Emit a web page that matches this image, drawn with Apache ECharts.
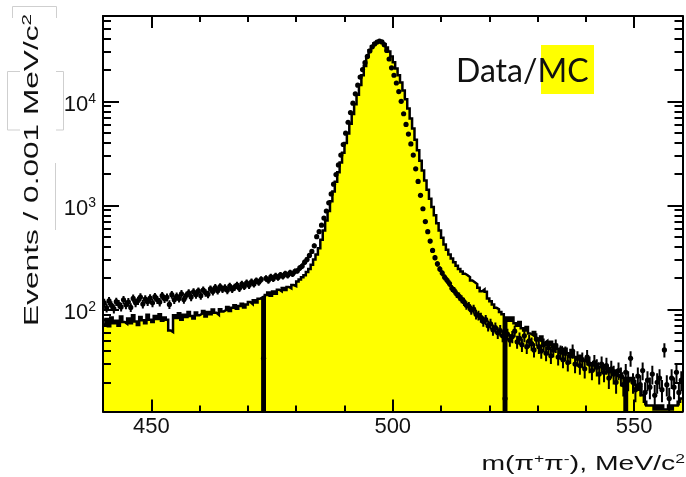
<!DOCTYPE html>
<html>
<head>
<meta charset="utf-8">
<script src="https://cdn.jsdelivr.net/npm/echarts@6/dist/echarts.min.js"></script>
<style>
  html, body { margin: 0; padding: 0; background: #ffffff; }
  #chart { width: 686px; height: 477px; }
</style>
</head>
<body>
<div id="chart"></div>
<script>
// pi+ pi- invariant mass, 0.5 MeV bins from 440 to 560 MeV/c^2
const MASS_MIN = 440;
const MASS_MAX = 560;
const BIN_WIDTH = 0.5;

// Simulated spectrum (filled histogram), bin contents by low edge
const mcCounts440 = [
  72, 81, 69, 84, 74, 78, 70, 86, 76, 73,
  82, 74, 88, 77, 71, 85, 79, 74, 89, 80,
  76, 87, 81, 90, 78, 84, 80, 63, 61, 88,
  83, 92, 80, 89, 85, 95, 87, 82, 94, 88,
  91, 97, 86, 95, 90, 100, 93, 89, 101, 96,
  99, 106, 97, 104, 110, 102, 108, 114, 105, 112,
  118, 113, 123, 117, 127, 131, 0, 138, 146, 136,
  149, 142, 155, 150, 161, 154, 165, 160, 172, 168
];
const mcCounts480 = [
  186, 195, 204, 214, 229, 245, 269, 302, 339, 389,
  468, 575, 716, 887, 1099, 1361, 1687, 2089, 2588, 3206,
  3972, 4920, 6095, 7551, 9354, 11588, 14355, 17783, 21878, 26915,
  30903, 33884, 35975, 37325, 37670, 36983, 35318, 32961, 30061, 26915,
  23714, 20654, 17783, 15136, 12735, 10471, 8511, 6839, 5495, 4266,
  3388, 2692, 2163, 1738, 1413, 1161, 966, 804, 676, 575,
  490, 422, 376, 339, 309, 285, 263, 245, 232, 221,
  214, 205, 190, 183, 176, 162, 150, 156, 148, 128
];
const mcCounts520 = [
  120, 112, 104, 101, 95, 90, 0, 84, 78, 84,
  74, 70, 76, 66, 63, 68, 59, 57, 61, 53,
  51, 55, 48, 50, 46, 49, 44, 46, 42, 43,
  40, 42, 38, 37, 39, 35, 34, 36, 33, 32,
  34, 30, 31, 29, 30, 28, 29, 27, 28, 25,
  27, 24, 26, 23, 24, 22, 0, 22, 21, 22,
  19, 17, 18, 15, 13, 12, 12, 12, 11, 12,
  11, 12, 11, 11, 12, 11, 12, 12, 13, 14
];

// Measured events per bin
const dataCounts440 = [
  116, 104, 121, 110, 102, 119, 113, 106, 124, 111,
  118, 105, 128, 116, 122, 132, 113, 126, 119, 129,
  116, 133, 124, 118, 136, 127, 131, 112, 139, 124,
  134, 128, 142, 125, 137, 145, 132, 148, 139, 151,
  136, 154, 145, 140, 158, 149, 163, 152, 166, 157,
  162, 153, 168, 157, 164, 172, 160, 176, 167, 181,
  171, 185, 176, 190, 183, 195, 34, 199, 191, 206,
  198, 211, 203, 215, 209, 221, 214, 226, 220, 233
];
const dataCounts480 = [
  236, 251, 262, 285, 303, 331, 362, 410, 501, 560,
  646, 757, 885, 1060, 1290, 1600, 1980, 2450, 3050, 3850,
  4950, 6300, 7800, 9600, 11800, 14300, 17100, 20200, 23500, 27000,
  30500, 33400, 35600, 37100, 37900, 37200, 35000, 30800, 25500, 21000,
  17800, 15000, 12400, 10000, 7600, 6000, 4850, 3900, 3050, 2250,
  1700, 1250, 930, 700, 560, 455, 370, 315, 275, 245,
  224, 204, 191, 178, 160, 152, 141, 134, 126, 119,
  110, 108, 99, 101, 90, 88, 84, 77, 80, 70
];
const dataCounts520 = [
  73, 64, 67, 60, 63, 56, 14, 58, 51, 55,
  62, 49, 53, 46, 56, 44, 50, 47, 41, 52,
  44, 40, 46, 38, 43, 36, 41, 45, 35, 39,
  33, 38, 31, 36, 40, 30, 34, 29, 33, 27,
  35, 30, 26, 31, 28, 24, 30, 25, 29, 22,
  27, 24, 20, 26, 23, 19, 25, 21, 34, 20,
  17, 23, 19, 26, 16, 21, 18, 24, 15, 20,
  22, 17, 41, 19, 14, 22, 18, 25, 16, 21
];

// Axis ticks
const xMajorTicks = [450, 500, 550];
const xMinorTicks = [460, 470, 480, 490, 510, 520, 530, 540];
const yMajorTicks = [100, 1000, 10000];
const yMinorTicks = [
  20, 30, 40, 50, 60, 70, 80, 90,
  200, 300, 400, 500, 600, 700, 800, 900,
  2000, 3000, 4000, 5000, 6000, 7000, 8000, 9000,
  20000, 30000, 40000, 50000, 60000
];
const Y_MIN = 10.5;
const Y_MAX = 66000;

const mcCounts = mcCounts440.concat(mcCounts480, mcCounts520);
const dataCounts = dataCounts440.concat(dataCounts480, dataCounts520);

// empty bins cannot sit on a log scale: send them below the visible floor
const EMPTY_LEVEL = 1;

const mcSteps = mcCounts.map((c, i) => [MASS_MIN + i * BIN_WIDTH, c > 0 ? c : EMPTY_LEVEL]);
mcSteps.push([MASS_MAX, mcSteps[mcSteps.length - 1][1]]);

const dataPoints = dataCounts.map((c, i) => [MASS_MIN + (i + 0.5) * BIN_WIDTH, c]);

const FONT = '"Liberation Sans", Arial, Helvetica, sans-serif';
const INK = '#000000';

function xAxisDef(position, ticks, len, main) {
  return {
    type: 'value', position: position, min: MASS_MIN, max: MASS_MAX, z: 10,
    axisLine: { show: main, onZero: false, lineStyle: { color: INK, width: 2 } },
    axisTick: { show: true, inside: true, length: len, customValues: ticks,
                lineStyle: { color: INK, width: 2 } },
    axisLabel: (main && position === 'bottom') ? {
      show: true, customValues: xMajorTicks, margin: 4,
      fontFamily: FONT, fontSize: 22, color: '#111'
    } : { show: false },
    splitLine: { show: false }
  };
}

function yAxisDef(position, ticks, len, main) {
  return {
    type: 'log', logBase: 10, position: position, min: Y_MIN, max: Y_MAX, z: 10,
    axisLine: { show: main, onZero: false, lineStyle: { color: INK, width: 2 } },
    axisTick: { show: true, inside: true, length: len, customValues: ticks,
                lineStyle: { color: INK, width: 2 } },
    axisLabel: (main && position === 'left') ? {
      show: true, customValues: yMajorTicks, margin: 7,
      formatter: v => '{b|10}{s|' + Math.round(Math.log10(v)) + '}',
      rich: {
        b: { fontFamily: FONT, fontSize: 22, color: '#111', padding: [7, 0, 0, 0] },
        s: { fontFamily: FONT, fontSize: 14, color: '#111', padding: [0, 0, 5, 0] }
      }
    } : { show: false },
    splitLine: { show: false }
  };
}

const chart = echarts.init(document.getElementById('chart'), null, { renderer: 'canvas' });

chart.setOption({
  animation: false,
  backgroundColor: '#ffffff',
  grid: { left: 103, right: 3.5, top: 16, bottom: 65.5, containLabel: false },
  xAxis: [
    xAxisDef('bottom', xMajorTicks, 12, true),
    xAxisDef('bottom', xMinorTicks, 6, false),
    xAxisDef('top', xMajorTicks, 12, true),
    xAxisDef('top', xMinorTicks, 6, false)
  ],
  yAxis: [
    yAxisDef('left', yMajorTicks, 16, true),
    yAxisDef('left', yMinorTicks, 8, false),
    yAxisDef('right', yMajorTicks, 15, true),
    yAxisDef('right', yMinorTicks, 8, false)
  ],
  series: [
    {
      name: 'MC',
      type: 'line',
      xAxisIndex: 0, yAxisIndex: 0,
      data: mcSteps,
      step: 'end',
      showSymbol: false,
      clip: true,
      z: 2,
      lineStyle: { color: INK, width: 2.5, join: 'miter' },
      areaStyle: { color: '#ffff00', opacity: 1, origin: 'start' }
    },
    {
      name: 'Data',
      type: 'custom',
      xAxisIndex: 0, yAxisIndex: 0,
      data: dataPoints,
      encode: { x: 0, y: 1 },
      clip: true,
      z: 3,
      renderItem: function (params, api) {
        const m = api.value(0);
        const n = api.value(1);
        const err = Math.sqrt(n);
        const c = api.coord([m, n]);
        const hi = api.coord([m, n + err]);
        const lo = api.coord([m, Math.max(n - err, 0.01)]);
        return {
          type: 'group',
          children: [
            { type: 'line', shape: { x1: c[0], y1: hi[1], x2: c[0], y2: lo[1] },
              style: { stroke: INK, lineWidth: 2 } },
            { type: 'circle', shape: { cx: c[0], cy: c[1], r: 2.6 },
              style: { fill: INK } }
          ]
        };
      }
    }
  ],
  graphic: [
    // faint frames left around the vertical title
    { type: 'polyline', silent: true, shape: { points: [[12.5, 18], [12.5, 6.5], [56.5, 6.5], [56.5, 18]] },
      style: { stroke: '#cfcfcf', lineWidth: 1, fill: null } },
    { type: 'polyline', silent: true, shape: { points: [[20, 71.5], [7.5, 71.5], [7.5, 130], [20, 130]] },
      style: { stroke: '#cfcfcf', lineWidth: 1, fill: null } },
    { type: 'polyline', silent: true, shape: { points: [[56, 71.5], [63.5, 71.5], [63.5, 130], [56, 130]] },
      style: { stroke: '#cfcfcf', lineWidth: 1, fill: null } },
    { type: 'line', silent: true, shape: { x1: 55.5, y1: 163, x2: 55.5, y2: 230 },
      style: { stroke: '#cfcfcf', lineWidth: 1 } },
    // vertical axis title
    {
      type: 'text', x: 32, y: 170, rotation: Math.PI / 2, scaleX: 1.58, scaleY: 1,
      style: {
        text: '{t|Events / 0.001 MeV/c}{s|2}',
        textAlign: 'center', textVerticalAlign: 'middle',
        rich: {
          t: { fontFamily: FONT, fontSize: 20, fill: '#111' },
          s: { fontFamily: FONT, fontSize: 13, fill: '#111', padding: [0, 0, 9, 0] }
        }
      }
    },
    // horizontal axis title
    {
      type: 'text', x: 685, y: 464, scaleX: 1.35, scaleY: 1,
      style: {
        text: '{n|m(\u03c0}{s|+}{n|\u03c0}{s|-}{n|), MeV/c}{s|2}',
        textAlign: 'right', textVerticalAlign: 'middle',
        rich: {
          n: { fontFamily: FONT, fontSize: 21, fill: '#111' },
          s: { fontFamily: FONT, fontSize: 13, fill: '#111', padding: [0, 0, 9, 0] }
        }
      }
    },
    // legend-style note
    { type: 'rect', silent: true, shape: { x: 541, y: 45, width: 53, height: 49 },
      style: { fill: '#ffff00' } },
    {
      type: 'text', x: 456, y: 72,
      style: {
        text: 'Data/MC', textAlign: 'left', textVerticalAlign: 'middle',
        fontFamily: 'Lato, "Open Sans", sans-serif', fontSize: 32, fill: '#111'
      }
    }
  ]
});
</script>
</body>
</html>
